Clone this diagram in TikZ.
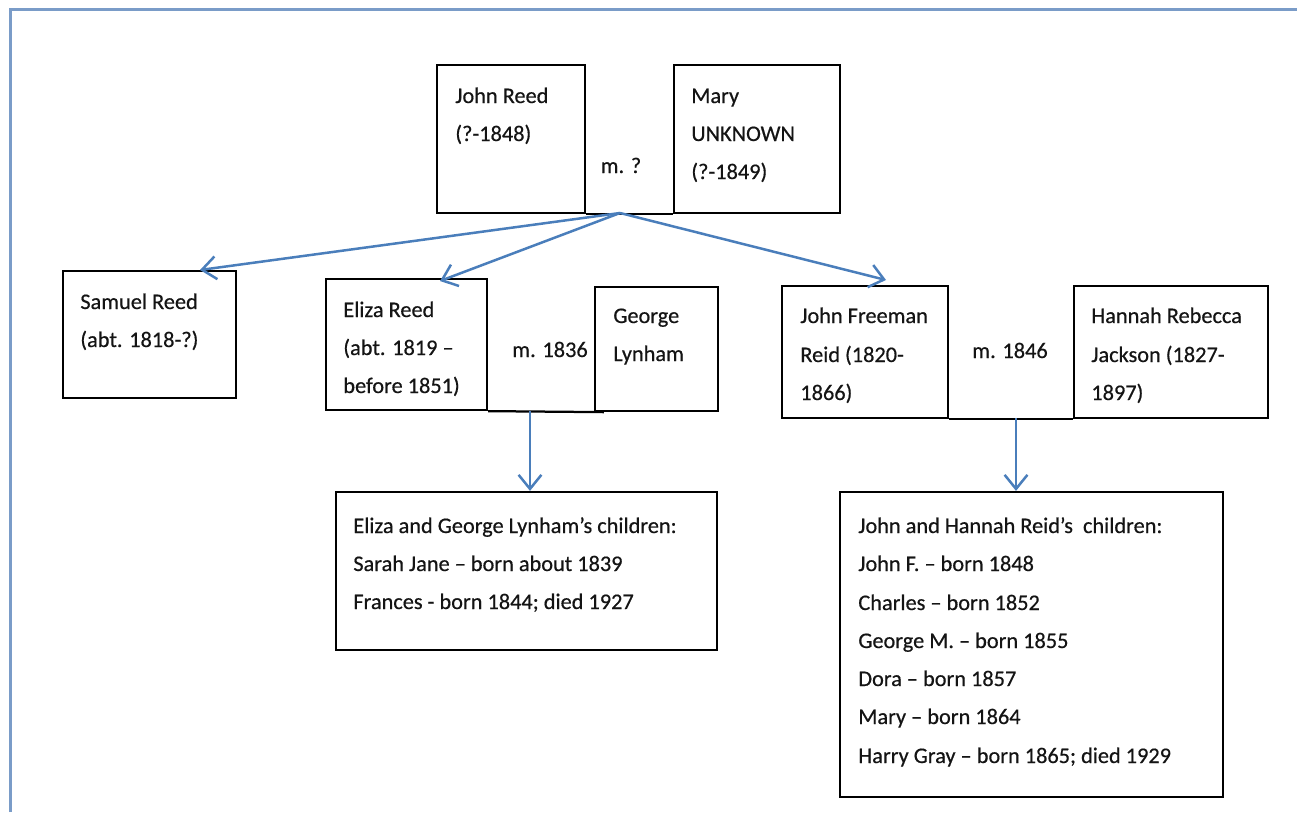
\documentclass[tikz,border=0pt]{standalone}
\usepackage{fontspec}
\setmainfont{Carlito}[FakeBold=0.5]
\usetikzlibrary{arrows.meta,calc}
\definecolor{framecol}{RGB}{122,156,200}
\definecolor{arrowcol}{RGB}{74,126,187}
\definecolor{txtcol}{RGB}{20,20,20}
\newcommand\tline[4]{\node[txt] (#1) at (#2,#3) {#4};}
\begin{document}
\begin{tikzpicture}[x=0.02cm,y=-0.02cm,
  box/.style={draw=black, line width=0.045cm, inner sep=0pt, rectangle},
  txt/.style={anchor=base west, inner sep=0pt, text=txtcol, font=\fontsize{12.7pt}{15pt}\selectfont},
  mtxt/.style={anchor=base, inner sep=0pt, text=txtcol, font=\fontsize{12.7pt}{15pt}\selectfont},
  conn/.style={draw=arrowcol, line width=0.05cm, -{Straight Barb[length=8pt,width=13pt,line width=0.05cm]}},
  mline/.style={draw=black, line width=0.045cm}]
\useasboundingbox (0,0) rectangle (1297,812);
% frame
\draw[framecol, line width=0.06cm] (10.5,812) -- (10.5,9.5) -- (1297,9.5);
% boxes
\node[box, minimum width=148*0.02cm, minimum height=148*0.02cm] (jr) at (511,139) {};
\node[box, minimum width=166*0.02cm, minimum height=148*0.02cm] (mu) at (757,139) {};
\node[box, minimum width=173*0.02cm, minimum height=127*0.02cm] (sr) at (149.5,334.5) {};
\node[box, minimum width=161*0.02cm, minimum height=131*0.02cm] (er) at (406.5,344.5) {};
\node[box, minimum width=123*0.02cm, minimum height=124*0.02cm] (gl) at (656.5,349) {};
\node[box, minimum width=381*0.02cm, minimum height=158*0.02cm] (c1) at (526.5,571) {};
\node[box, minimum width=166*0.02cm, minimum height=132*0.02cm] (jf) at (865,352) {};
\node[box, minimum width=194*0.02cm, minimum height=132*0.02cm] (hr) at (1171,352) {};
\node[box, minimum width=383*0.02cm, minimum height=305*0.02cm] (c2) at (1031.5,644.5) {};
% marriage lines
\draw[mline] (jr.south east) -- (mu.south west);
\draw[mline] (er.south east) -- ($(gl.south west)+(10,0)$);
\draw[mline] (jf.south east) -- (hr.south west);
% texts
\tline{jr1}{455}{103}{John Reed}
\tline{jr2}{455}{141}{(?-1848)}
\tline{mu1}{691}{103}{Mary}
\tline{mu2}{691}{141}{UNKNOWN}
\tline{mu3}{691}{179}{(?-1849)}
\node[mtxt] (m1) at (621,173) {m. ?};
\tline{sr1}{80}{309}{Samuel Reed}
\tline{sr2}{80}{347}{(abt. 1818-?)}
\tline{er1}{343}{317}{Eliza Reed}
\tline{er2}{343}{355}{(abt. 1819 –}
\tline{er3}{343}{393}{before 1851)}
\node[mtxt] (m2) at (550,357) {m. 1836};
\tline{gl1}{613}{323}{George}
\tline{gl2}{613}{361}{Lynham}
\tline{jf1}{800}{323}{John Freeman}
\tline{jf2}{800}{362}{Reid (1820-}
\tline{jf3}{800}{400}{1866)}
\node[mtxt] (m3) at (1010,358) {m. 1846};
\tline{hr1}{1091}{323}{Hannah Rebecca}
\tline{hr2}{1091}{362}{Jackson (1827-}
\tline{hr3}{1091}{400}{1897)}
\tline{ca1}{353}{533}{Eliza and George Lynham’s children:}
\tline{ca2}{353}{571}{Sarah Jane – born about 1839}
\tline{ca3}{353}{609}{Frances - born 1844; died 1927}
\tline{cb1}{858}{533}{John and Hannah Reid’s\ \ children:}
\tline{cb2}{858}{571}{John F. – born 1848}
\tline{cb3}{858}{610}{Charles – born 1852}
\tline{cb4}{858}{648}{George M. – born 1855}
\tline{cb5}{858}{686}{Dora – born 1857}
\tline{cb6}{858}{724}{Mary – born 1864}
\tline{cb7}{858}{763}{Harry Gray – born 1865; died 1929}
% connectors
\coordinate (mp1) at (620,213);
\coordinate (tsr) at (200,270);
\coordinate (ter) at (440,281);
\coordinate (tjf) at (886,280);
\draw[conn] (mp1) -- (tsr);
\draw[conn] (mp1) -- (ter);
\draw[conn] (mp1) -- (tjf);
\coordinate (mp2) at (530,411);
\coordinate (mp3) at (1016,418);
\draw[conn] (mp2) -- (mp2 |- c1.north);
\draw[conn] (mp3) -- (mp3 |- c2.north);
\end{tikzpicture}
\end{document}
